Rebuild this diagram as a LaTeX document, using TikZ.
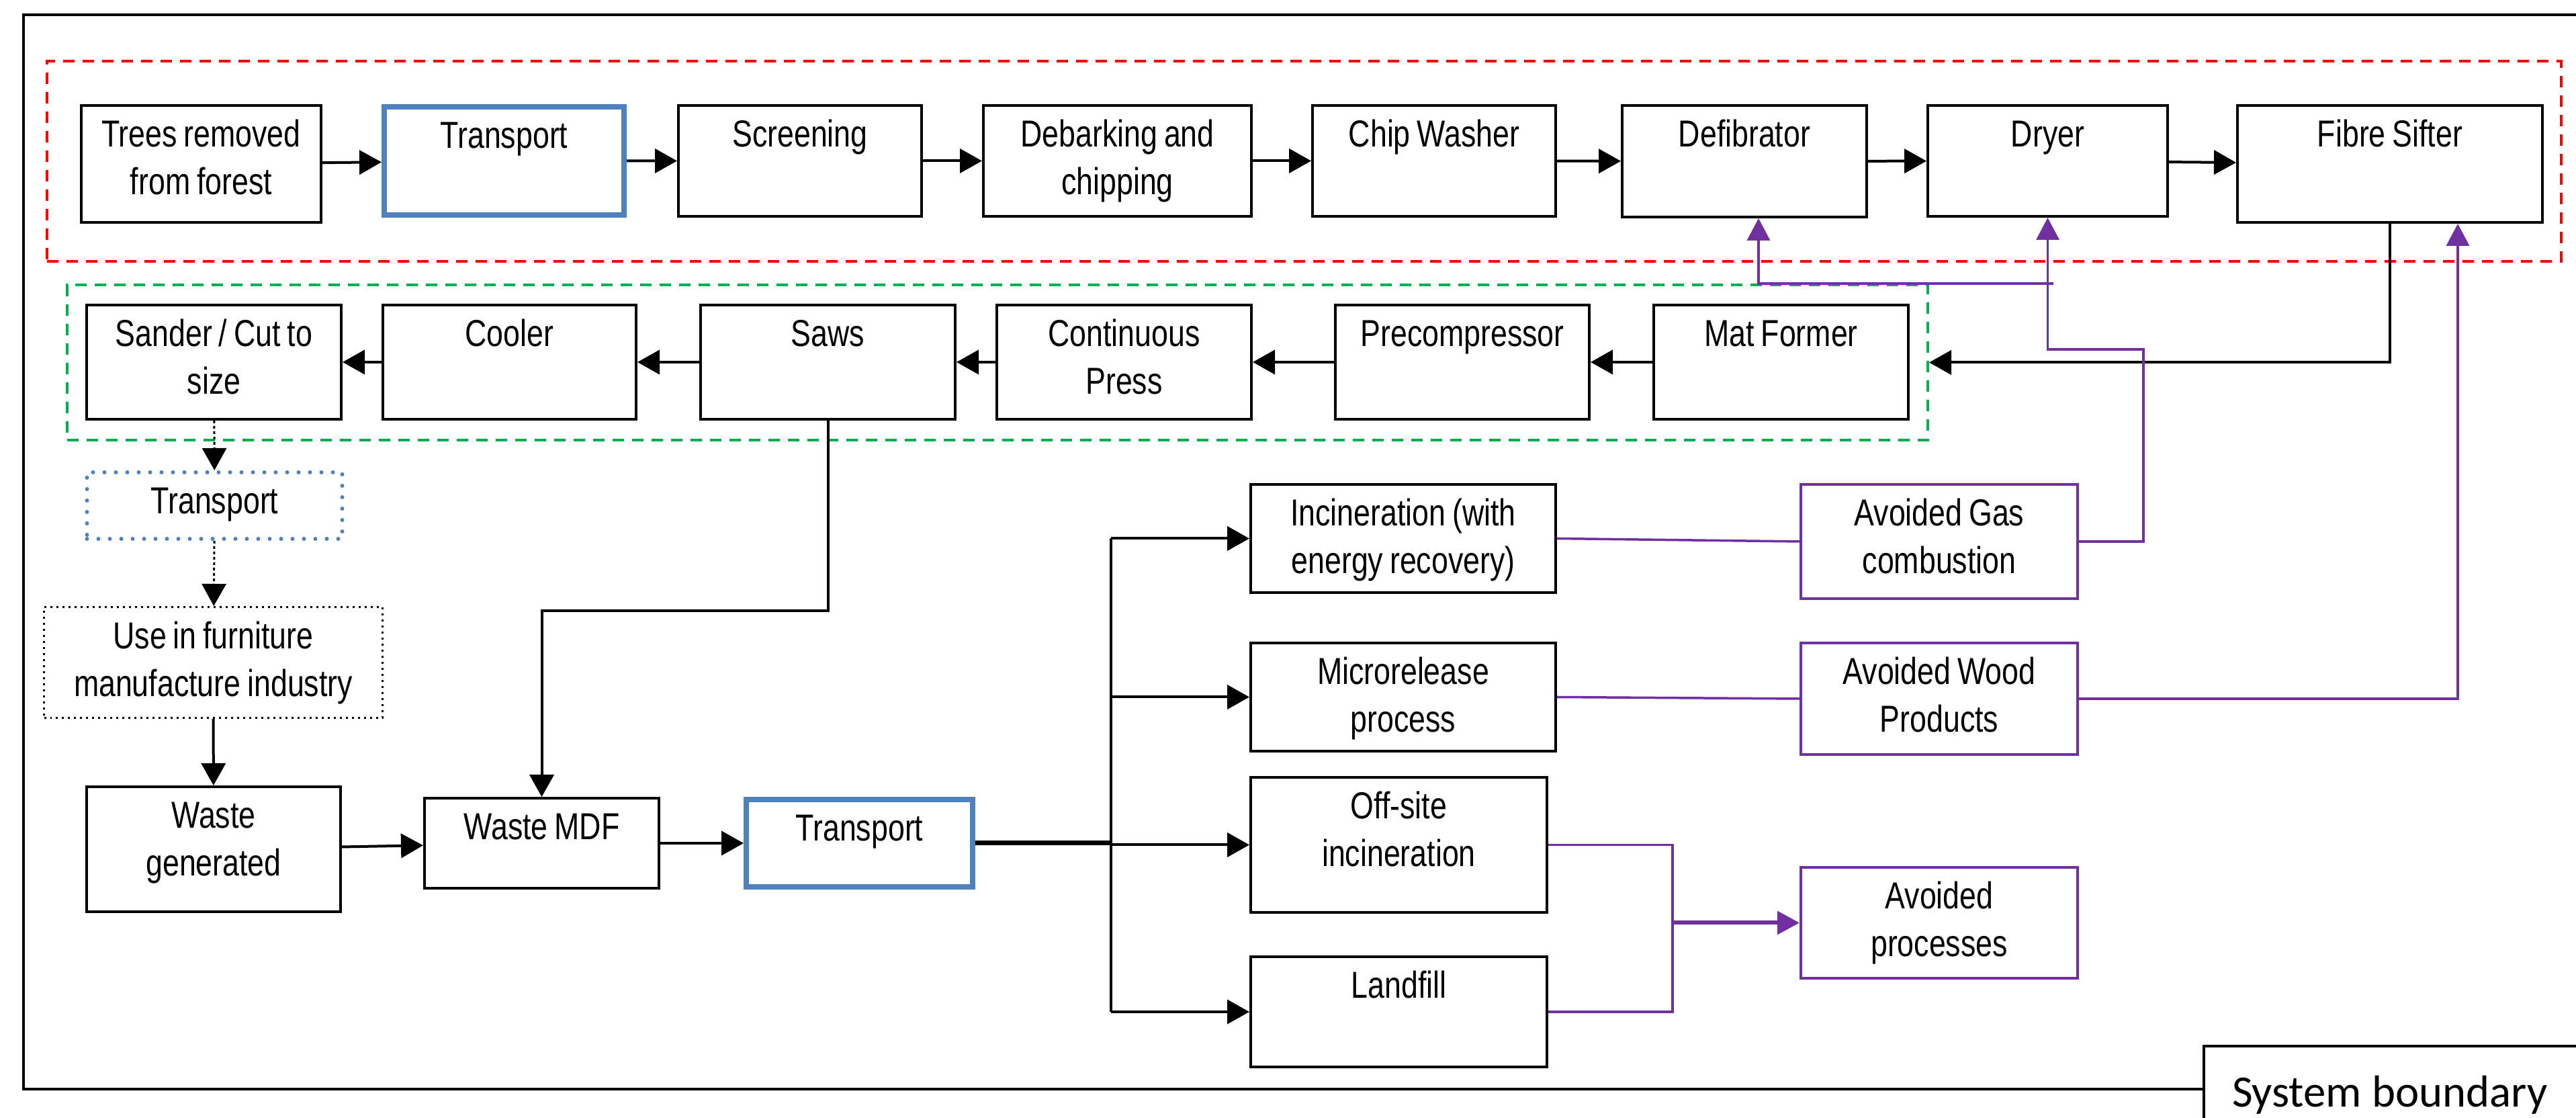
\documentclass[tikz,border=0pt]{standalone}
\usepackage{fontspec}
\setmainfont{Liberation Sans}[FakeStretch=0.8,WordSpace=0.8]
\newfontfamily\sbfont{Carlito}
\usetikzlibrary{arrows.meta,positioning,calc}
\definecolor{bluebdr}{RGB}{79,129,189}
\definecolor{purp}{RGB}{112,48,160}
\definecolor{grpgreen}{RGB}{0,176,80}
\definecolor{grpred}{RGB}{255,0,0}
\tikzset{
  %% process block (text sits at the top)
  pblk/.style={rectangle,draw=black,line width=0.04cm,fill=white,
    text width=#1,align=flush center,inner sep=0pt,text height=0.62cm,
    anchor=north west,font=\fontsize{15.9}{20.2}\selectfont},
  %% transport block
  tblk/.style={pblk=#1,draw=bluebdr,line width=0.08cm},
  %% transport to user (dotted blue)
  dblk/.style={pblk=#1,draw=bluebdr,line width=0.06cm,line cap=round,
    dash pattern=on 0pt off 0.17cm},
  %% use phase
  ublk/.style={pblk=#1,line width=0.03cm,dash pattern=on 0.03cm off 0.06cm},
  %% avoided burdens
  avblk/.style={pblk=#1,draw=purp},
  %% dashed stage box
  grpbox/.style={rectangle,draw=#1,line width=0.04cm,
    dash pattern=on 0.17cm off 0.12cm,inner sep=0pt,anchor=north west},
  %% arrows
  arr/.style={-{Triangle[length=0.33cm,width=0.36cm]},line width=0.04cm},
  darr/.style={arr,line width=0.03cm,dash pattern=on 0.04cm off 0.04cm},
  parr/.style={-{Triangle[length=0.33cm,width=0.34cm]},line width=0.035cm,draw=purp},
  pln/.style={line width=0.035cm,draw=purp},
}
\begin{document}
\begin{tikzpicture}
  \useasboundingbox (0,0) rectangle (38.35,-16.64);
  \clip (0,0) rectangle (38.35,-16.64);
  \draw[line width=0.04cm] (0.35,-0.22) rectangle (39,-16.21);

  %% stage boxes
  \node[grpbox=grpred,minimum width=37.43cm,minimum height=2.98cm] (stgA) at (0.68,-0.89) {};
  \node[grpbox=grpgreen,minimum width=27.70cm,minimum height=2.31cm] (stgB) at (0.98,-4.22) {};

  %% fibre preparation
  \node[pblk=3.57cm,text depth=1.12cm] (trees)  at (1.19,-1.55)  {Trees removed\\from forest};
  \node[tblk=3.57cm,text depth=0.99cm] (tr1)    at (5.68,-1.55)  {Transport};
  \node[pblk=3.62cm,text depth=1.03cm] (screen) at (10.08,-1.55) {Screening};
  \node[pblk=3.99cm,text depth=1.03cm] (debark) at (14.62,-1.55) {Debarking and\\chipping};
  \node[pblk=3.62cm,text depth=1.03cm] (chip)   at (19.52,-1.55) {Chip Washer};
  \node[pblk=3.64cm,text depth=1.04cm] (defib)  at (24.13,-1.55) {Defibrator};
  \node[pblk=3.57cm,text depth=1.03cm] (dryer)  at (28.68,-1.55) {Dryer};
  \node[pblk=4.54cm,text depth=1.12cm] (sifter) at (33.29,-1.55) {Fibre Sifter};

  %% board forming
  \node[pblk=3.79cm,text depth=1.08cm] (sander)  at (1.27,-4.52)  {Sander / Cut to\\size};
  \node[pblk=3.77cm,text depth=1.08cm] (cooler)  at (5.68,-4.52)  {Cooler};
  \node[pblk=3.79cm,text depth=1.08cm] (saws)    at (10.41,-4.52) {Saws};
  \node[pblk=3.79cm,text depth=1.08cm] (press)   at (14.82,-4.52) {Continuous\\Press};
  \node[pblk=3.78cm,text depth=1.08cm] (precomp) at (19.86,-4.52) {Precompressor};
  \node[pblk=3.79cm,text depth=1.08cm] (matf)    at (24.60,-4.52) {Mat Former};

  %% use and end of life
  \node[dblk=3.80cm,text depth=0.37cm] (trd)   at (1.265,-7.00) {Transport};
  \node[ublk=5.04cm,text depth=1.03cm] (use)   at (0.64,-9.02)  {Use in furniture\\manufacture industry};
  \node[pblk=3.78cm,text depth=1.24cm] (wgen)  at (1.27,-11.69) {Waste\\generated};
  \node[pblk=3.49cm,text depth=0.72cm] (wmdf)  at (6.30,-11.86) {Waste MDF};
  \node[tblk=3.37cm,text depth=0.68cm] (tr2)   at (11.07,-11.86) {Transport};
  \node[pblk=4.54cm,text depth=0.99cm] (incin) at (18.60,-7.19)  {Incineration (with\\energy recovery)};
  \node[pblk=4.54cm,text depth=0.99cm] (micro) at (18.60,-9.55)  {Microrelease\\process};
  \node[pblk=4.41cm,text depth=1.39cm] (offs)  at (18.60,-11.55) {Off-site\\incineration};
  \node[pblk=4.41cm,text depth=1.02cm] (landf) at (18.60,-14.22) {Landfill};

  %% avoided burdens
  \node[avblk=4.12cm,text depth=1.08cm] (gas)  at (26.79,-7.19)  {Avoided Gas\\combustion};
  \node[avblk=4.12cm,text depth=1.04cm] (wood) at (26.79,-9.55)  {Avoided Wood\\Products};
  \node[avblk=4.12cm,text depth=1.03cm] (avp)  at (26.79,-12.89) {Avoided\\processes};

  \node[draw,line width=0.04cm,fill=white,anchor=north west,text width=5.5cm,
    inner xsep=0.42cm,inner ysep=0pt,text height=0.91cm,text depth=0.6cm,align=flush left,
    font=\sbfont\fontsize{19}{23}\selectfont] (sysb) at (32.79,-15.55) {System boundary};

  %% main flow
  \draw[arr] (trees) -- (tr1);
  \draw[arr] (tr1) -- (screen);
  \draw[arr] (screen) -- (debark);
  \draw[arr] (debark) -- (chip);
  \draw[arr] (chip) -- (defib);
  \draw[arr] (defib) -- (dryer);
  \draw[arr] (dryer) -- (sifter);
  \draw[arr] (sifter.south) |- (stgB.east);
  \draw[arr] (matf) -- (precomp);
  \draw[arr] (precomp) -- (press);
  \draw[arr] (press) -- (saws);
  \draw[arr] (saws) -- (cooler);
  \draw[arr] (cooler) -- (sander);
  \draw[darr] (sander) -- (trd);
  \draw[darr] (trd) -- (use);
  \draw[arr] (use) -- (wgen);
  \draw[arr] (wgen) -- (wmdf);
  \draw[arr] (saws.south) -- ++(0,-2.83) -| (wmdf.north);
  \draw[arr] (wmdf) -- (tr2);

  %% end of life routes
  \coordinate (bx) at (16.54,-12.555);
  \draw[line width=0.07cm] (tr2.east) -- (bx |- tr2.east);
  \draw[line width=0.04cm] (bx |- incin.west) -- (bx |- landf.west);
  \draw[arr] (bx |- incin.west) -- (incin.west);
  \draw[arr] (bx |- micro.west) -- (micro.west);
  \draw[arr] (bx |- offs.west) -- (offs.west);
  \draw[arr] (bx |- landf.west) -- (landf.west);

  %% credits
  \draw[pln] (incin.east) -- (gas.west);
  \draw[pln] (micro.east) -- (wood.west);
  \coordinate (jx) at (24.90,-13.715);
  \draw[pln] (offs.east) -| (jx |- landf.east) -- (landf.east);
  \draw[parr,line width=0.06cm] (jx |- avp.west) -- (avp.west);
  \coordinate (gbend) at (31.91,-5.20);
  \draw[parr] (gas.east) -| (gbend) -| (dryer.south);
  \draw[parr] ($(dryer.south |- stgB.north)+(0.08,0)$) -| ($(defib.south)+(0.21,0)$);
  \draw[parr] (wood.east) -| ($(sifter.south)+(1.01,0)$);
\end{tikzpicture}
\end{document}
